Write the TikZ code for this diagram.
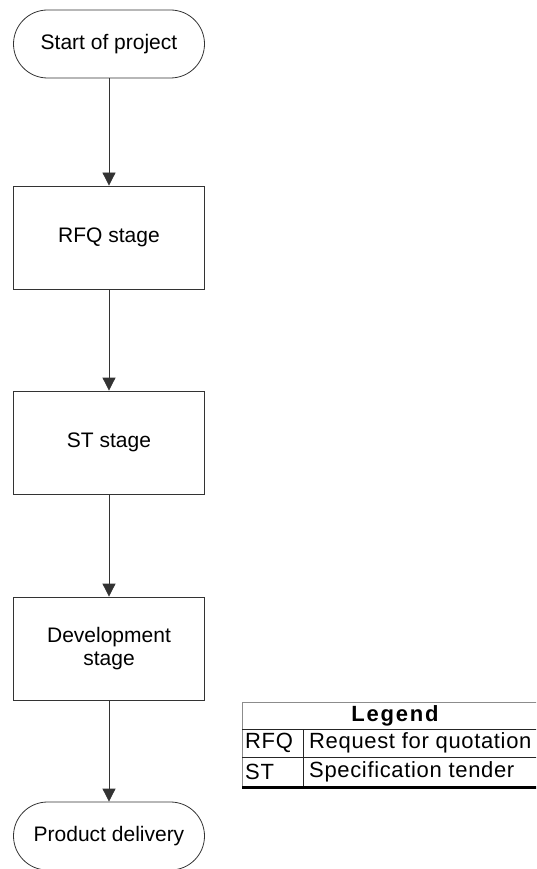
\documentclass[tikz,border=0pt]{standalone}
\usepackage{fontspec}
\setmainfont{Liberation Sans}
\newfontfamily\legendfont[LetterSpace=3]{Liberation Sans}
\newfontfamily\legendbold[LetterSpace=8]{Liberation Sans Bold}
\usetikzlibrary{arrows.meta}
\begin{document}
\begin{tikzpicture}[x=1pt,y=-1pt,
  flowline/.style={draw=black!80,line width=0.8pt},
  terminal/.style={flowline,rounded corners=34pt,minimum width=191pt,minimum height=68pt,
    inner sep=0pt,font=\fontsize{21}{23}\selectfont},
  stagebox/.style={flowline,minimum width=191pt,minimum height=103pt,inner sep=0pt,
    align=center,font=\fontsize{21}{23}\selectfont},
  flowarrow/.style={flowline,-{Triangle[width=13pt,length=13pt]}},
  legendtext/.style={inner sep=0pt,anchor=west,font=\legendfont\fontsize{22}{24}\selectfont},
  legendhead/.style={inner sep=0pt,font=\legendbold\fontsize{22}{24}\selectfont},
  thingrid/.style={draw=black!85,line width=0.8pt},
  palegrid/.style={draw=black!45,line width=0.8pt}]
\useasboundingbox (0,0) rectangle (536,869);
\begin{scope}
\clip (0,0) rectangle (536,869);

% flowchart
\node[terminal] (start) at (109,44) {Start of project};
\node[stagebox] (rfq) at (109,237.5) {RFQ stage};
\node[stagebox] (st) at (109,442.5) {ST stage};
\node[stagebox] (dev) at (109,648.5) {Development\\stage};
\node[terminal] (finish) at (109,836) {Product delivery};

\draw[flowarrow] (start) -- (rfq);
\draw[flowarrow] (rfq) -- (st);
\draw[flowarrow] (st) -- (dev);
\draw[flowarrow] (dev) -- (finish);

% legend table
\draw[palegrid] (242,702) -- (548,702);
\draw[palegrid] (242,702) -- (242,787);
\draw[thingrid] (242,729) -- (548,729);
\draw[thingrid] (242,757) -- (548,757);
\draw[thingrid] (303,729) -- (303,787);
\draw[black,line width=3pt] (242,787) -- (548,787);

\node[legendhead] (lhead) at (395,716) {Legend};
\node[legendtext] (rfqkey) at (245,743) {RFQ};
\node[legendtext] (rfqval) at (309,743) {Request for quotation};
\node[legendtext] (stkey) at (245,771.5) {ST};
\node[legendtext] (stval) at (309,771.5) {Specification tender};
\end{scope}
\end{tikzpicture}
\end{document}
